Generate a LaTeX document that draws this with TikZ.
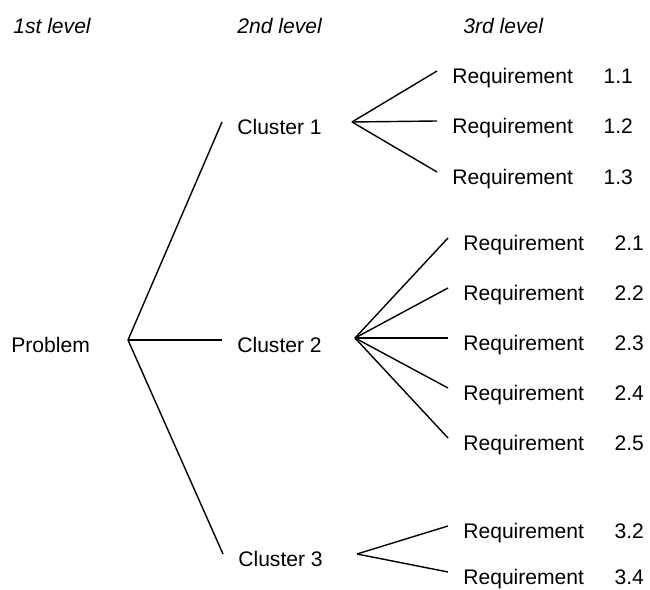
\documentclass[tikz,border=0pt]{standalone}
\usepackage{fontspec}
\setmainfont{Liberation Sans}
\usetikzlibrary{positioning}

\tikzset{
  item/.style={anchor=west, inner xsep=0.3cm, inner ysep=0pt,
               text height=1.2em, text depth=0pt},
  hdr/.style={anchor=base west, inner sep=0pt, font=\itshape},
  branch/.style={line width=0.8pt}
}

\begin{document}
\begin{tikzpicture}[x=0.02cm,y=-0.02cm]
\fontsize{12}{14}\selectfont
\path[use as bounding box] (0,0) rectangle (650,590);

% level headings
\node[hdr] (lv1) at (13,34) {1st level};
\node[hdr] (lv2) at (237,34) {2nd level};
\node[hdr] (lv3) at (463,34) {3rd level};

% forks
\coordinate (p-fork) at (128,340);
\coordinate (c1-fork) at (352,122);
\coordinate (c2-fork) at (355,338);
\coordinate (c3-fork) at (357,554);

% 1st and 2nd level
\node[item, inner xsep=0pt] (prob) at (11,340) {Problem};
\node[item] (c1) at (222,122) {Cluster 1};
\node[item] (c2) at (222,340) {Cluster 2};
\node[item] (c3) at (223,554) {Cluster 3};

\foreach \c in {c1,c2,c3}
  \draw[branch] (p-fork) -- (\c.west);

% 3rd level
\foreach \n/\y in {1/71,2/121,3/172}
  \node[item] (r1\n) at (437,\y) {Requirement\hspace{1.45em}1.\n};
\foreach \n/\y in {1/238,2/288,3/338,4/388,5/438}
  \node[item] (r2\n) at (448,\y) {Requirement\hspace{1.45em}2.\n};
\foreach \n/\y in {2/526,4/572}
  \node[item] (r3\n) at (448,\y) {Requirement\hspace{1.45em}3.\n};

\foreach \n in {1,2,3}
  \draw[branch] (c1-fork) -- (r1\n.west);
\foreach \n in {1,...,5}
  \draw[branch] (c2-fork) -- (r2\n.west);
\foreach \n in {2,4}
  \draw[branch] (c3-fork) -- (r3\n.west);
\end{tikzpicture}
\end{document}
